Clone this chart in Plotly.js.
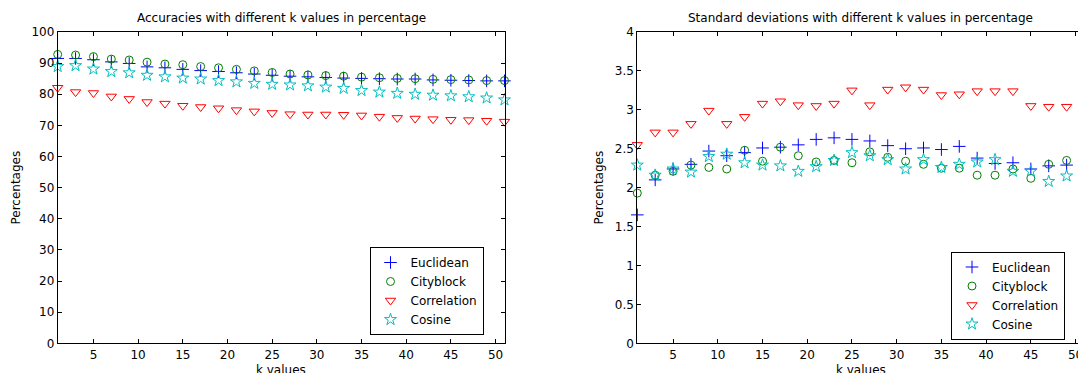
<!DOCTYPE html>
<html>
<head>
<meta charset="utf-8">
<script src="https://cdn.plot.ly/plotly-3.0.1.min.js"></script>
<style>
html, body { margin: 0; padding: 0; overflow: hidden; background: #fff; }
#chart { width: 1090px; height: 373px; }
</style>
</head>
<body>
<div id="chart"></div>
<script>
// k values
const kValues = [1,3,5,7,9,11,13,15,17,19,21,23,25,27,29,31,33,35,37,39,41,43,45,47,49,51];
// right panel: the k = 51 column lies outside the visible picture
const kValuesStd = [1,3,5,7,9,11,13,15,17,19,21,23,25,27,29,31,33,35,37,39,41,43,45,47,49];

// Accuracies (%)
const accEuclidean   = [91.5,91.5,91.1,90.4,89.9,88.8,88.5,88.0,87.6,87.3,86.9,86.5,86.1,85.8,85.6,85.4,85.2,85.1,85.0,84.9,84.9,84.6,84.5,84.4,84.3,84.3];
const accCityblock   = [92.8,92.6,92.1,91.3,91.0,90.3,89.7,89.5,88.9,88.5,88.0,87.5,87.0,86.5,86.2,86.0,85.8,85.5,85.3,85.1,85.0,84.8,84.7,84.6,84.4,84.4];
const accCorrelation = [82.1,80.7,80.4,79.3,78.5,77.5,77.0,76.3,75.9,75.5,74.9,74.5,74.0,73.6,73.5,73.5,73.4,73.2,72.8,72.4,72.2,72.0,71.8,71.7,71.5,71.2];
const accCosine      = [88.9,89.2,88.1,87.3,86.9,86.1,85.6,85.2,84.9,84.4,84.0,83.5,83.2,83.0,82.7,82.3,81.9,81.2,80.7,80.3,80.0,79.7,79.5,79.2,78.8,78.2];

// Standard deviations (%)
const stdEuclidean   = [1.65,2.10,2.24,2.30,2.47,2.41,2.45,2.51,2.52,2.55,2.62,2.64,2.62,2.60,2.54,2.50,2.51,2.49,2.53,2.38,2.31,2.32,2.24,2.28,2.29];
const stdCityblock   = [1.93,2.16,2.21,2.29,2.26,2.24,2.48,2.34,2.52,2.41,2.33,2.35,2.32,2.46,2.39,2.34,2.30,2.25,2.25,2.16,2.16,2.24,2.12,2.30,2.35];
const stdCorrelation = [2.55,2.71,2.71,2.82,2.99,2.82,2.91,3.08,3.11,3.06,3.05,3.08,3.25,3.06,3.26,3.29,3.26,3.19,3.20,3.24,3.24,3.24,3.05,3.04,3.04];
const stdCosine      = [2.29,2.16,2.24,2.20,2.40,2.43,2.32,2.29,2.28,2.21,2.27,2.35,2.45,2.41,2.36,2.24,2.36,2.26,2.30,2.33,2.36,2.21,2.21,2.08,2.15];

const seriesNames = ['Euclidean','Cityblock','Correlation','Cosine'];
const leftTitle = 'Accuracies with different k values in percentage';
const rightTitle = 'Standard deviations with different k values in percentage';
const xTitle = 'k values';
const yTitle = 'Percentages';

const FONT = 'DejaVu Sans, Liberation Sans, Arial, sans-serif';
const W = 1090, H = 373;
const styles = [
  {symbol: 'cross-thin-open', color: '#0000ff', size: 9},
  {symbol: 'circle-open', color: '#008000', size: 8},
  {symbol: 'triangle-down-open', color: '#ff0000', size: 9},
  {symbol: 'star-open', color: '#00bfbf', size: 9}
];

function mk(x, y, i, xa, ya, leg) {
  const s = styles[i];
  return {
    x: x, y: y, type: 'scatter', mode: 'markers', name: seriesNames[i],
    xaxis: xa, yaxis: ya, legend: leg, cliponaxis: false,
    marker: {symbol: s.symbol, size: s.size, color: s.color, line: {color: s.color, width: 1}}
  };
}

const accSeries = [accEuclidean, accCityblock, accCorrelation, accCosine];
const stdSeries = [stdEuclidean, stdCityblock, stdCorrelation, stdCosine];
const traces = [];
accSeries.forEach((v, i) => traces.push(mk(kValues, v, i, 'x', 'y', 'legend')));
stdSeries.forEach((v, i) => traces.push(mk(kValuesStd, v, i, 'x2', 'y2', 'legend2')));

const px = v => v / W;
const py = v => 1 - v / H;

const axBase = {
  showline: true, linecolor: '#000', linewidth: 1, mirror: 'ticks',
  ticks: 'inside', ticklen: 4, tickcolor: '#000', tickwidth: 1,
  showgrid: false, zeroline: false, automargin: false,
  tickfont: {family: FONT, size: 12, color: '#000'}
};

const L1 = 57.7, R1 = 504.5, L2 = 637.3, R2 = 1084.5;
const yDom = [py(343.3), py(32)];
const txt = (text, x, y, extra) => Object.assign({
  text: text, xref: 'paper', yref: 'paper', x: px(x), y: py(y),
  xanchor: 'center', yanchor: 'middle', showarrow: false,
  font: {family: FONT, size: 12, color: '#000'}
}, extra || {});

const layout = {
  width: W, height: H,
  margin: {l: 0, r: 0, t: 0, b: 0},
  paper_bgcolor: '#fff', plot_bgcolor: '#fff',
  font: {family: FONT, size: 12, color: '#000'},
  xaxis: Object.assign({}, axBase, {domain: [px(L1), px(R1)], range: [1, 51], dtick: 5, tick0: 0}),
  yaxis: Object.assign({}, axBase, {domain: yDom, range: [0, 100], dtick: 10,
    title: {text: yTitle, font: {family: FONT, size: 12}, standoff: 8}}),
  xaxis2: Object.assign({}, axBase, {domain: [px(L2), px(R2)], range: [1, 51], dtick: 5, tick0: 0, anchor: 'y2'}),
  yaxis2: Object.assign({}, axBase, {domain: yDom, range: [0, 4], dtick: 0.5, anchor: 'x2',
    title: {text: yTitle, font: {family: FONT, size: 12}, standoff: 8}}),
  legend: {
    x: px(426.5), y: py(291), xanchor: 'center', yanchor: 'middle',
    bgcolor: '#fff', bordercolor: '#000', borderwidth: 1,
    font: {family: FONT, size: 12, color: '#000'}
  },
  legend2: {
    x: px(1008), y: py(295.5), xanchor: 'center', yanchor: 'middle',
    bgcolor: '#fff', bordercolor: '#000', borderwidth: 1,
    font: {family: FONT, size: 12, color: '#000'}
  },
  showlegend: true,
  annotations: [
    txt(leftTitle, (L1 + R1) / 2, 17.5),
    txt(rightTitle, (L2 + R2) / 2, 17.5),
    txt(xTitle, (L1 + R1) / 2, 370),
    txt(xTitle, (L2 + R2) / 2, 370)
  ]
};

Plotly.newPlot('chart', traces, layout, {staticPlot: true, displayModeBar: false});
</script>
</body>
</html>
